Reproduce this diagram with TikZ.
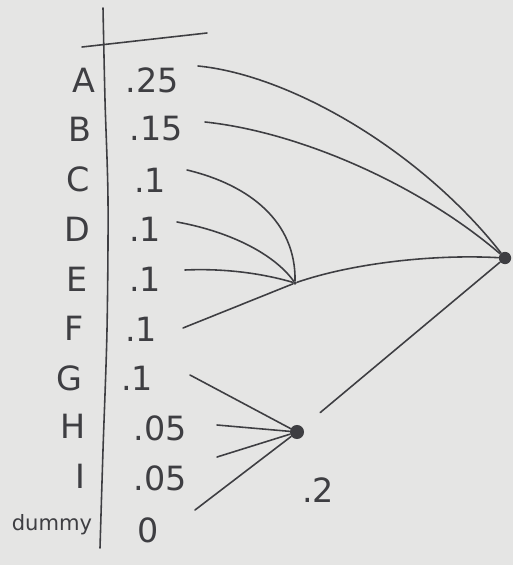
\documentclass[tikz,border=0pt]{standalone}
\usepackage{fontspec}
\setsansfont{DejaVu Sans}
\definecolor{paper}{RGB}{229,229,228}
\definecolor{pencil}{RGB}{62,62,66}
\begin{document}
\begin{tikzpicture}[
  x=0.02cm, y=-0.02cm,
  font=\sffamily\fontsize{19}{22}\selectfont,
  lbl/.style={inner sep=1pt, text=pencil},
  val/.style={inner sep=1pt, text=pencil},
  hub/.style={circle, fill=pencil, inner sep=0pt, minimum size=#1},
  hub/.default=7pt,
  edge/.style={draw=pencil, line width=0.9pt, line cap=round},
]

% paper and frame
\fill[paper] (0,0) rectangle (513,565);
\useasboundingbox (0,0) rectangle (513,565);

% table lines
\draw[edge] plot[smooth] coordinates {(103,8) (105,100) (108,200) (107,330) (103,450) (100,548)};
\draw[edge] (82,47) -- (207,33);

% symbols and their weights
\node[lbl] (lA) at (84,80)  {A};
\node[lbl] (lB) at (80,129) {B};
\node[lbl] (lC) at (78,179) {C};
\node[lbl] (lD) at (77,229) {D};
\node[lbl] (lE) at (77,279) {E};
\node[lbl] (lF) at (74,328) {F};
\node[lbl] (lG) at (69,378) {G};
\node[lbl] (lH) at (73,426) {H};
\node[lbl] (lI) at (80,476) {I};
\node[lbl, font=\sffamily\fontsize{12}{14}\selectfont] (ldummy) at (52,525) {dummy};

\node[val] (vA) at (152,80)  {.25};
\node[val] (vB) at (156,129) {.15};
\node[val] (vC) at (150,180) {.1};
\node[val] (vD) at (145,229) {.1};
\node[val] (vE) at (145,279) {.1};
\node[val] (vF) at (141,329) {.1};
\node[val] (vG) at (137,378) {.1};
\node[val] (vH) at (160,428) {.05};
\node[val] (vI) at (160,478) {.05};
\node[val] (vdummy) at (148,530) {0};

% merge points
\node[hub] (root) at (505,258) {};
\node[hub=2pt] (mCF) at (295,283) {};
\node[hub=8pt] (mGI) at (297,432) {};
\node[val] (wGI) at (318,490) {.2};

% first merge: C, D, E, F
\draw[edge] ([shift={(37,-10)}]vC.center) .. controls (250,185) and (296,222) .. (mCF);
\draw[edge] ([shift={(32,-7)}]vD.center) .. controls (232,232) and (275,255) .. (mCF);
\draw[edge] ([shift={(40,-9)}]vE.center) .. controls (230,268) and (268,275) .. (mCF);
\draw[edge] ([shift={(42,-1)}]vF.center) -- (mCF);

% second merge: G, H, I, dummy
\draw[edge] ([shift={(53,-3)}]vG.center) -- (mGI);
\draw[edge] ([shift={(57,-3)}]vH.center) -- (mGI);
\draw[edge] ([shift={(57,-21)}]vI.center) -- (mGI);
\draw[edge] ([shift={(47,-20)}]vdummy.center) -- (mGI);

% root
\draw[edge] ([shift={(46,-14)}]vA.center) .. controls (290,75) and (420,150) .. (root);
\draw[edge] ([shift={(49,-7)}]vB.center) .. controls (300,132) and (420,185) .. (root);
\draw[edge] (mCF) .. controls (350,264) and (430,254) .. (root);
\draw[edge, shorten <=13pt] (mGI) -- (root);

\end{tikzpicture}
\end{document}
